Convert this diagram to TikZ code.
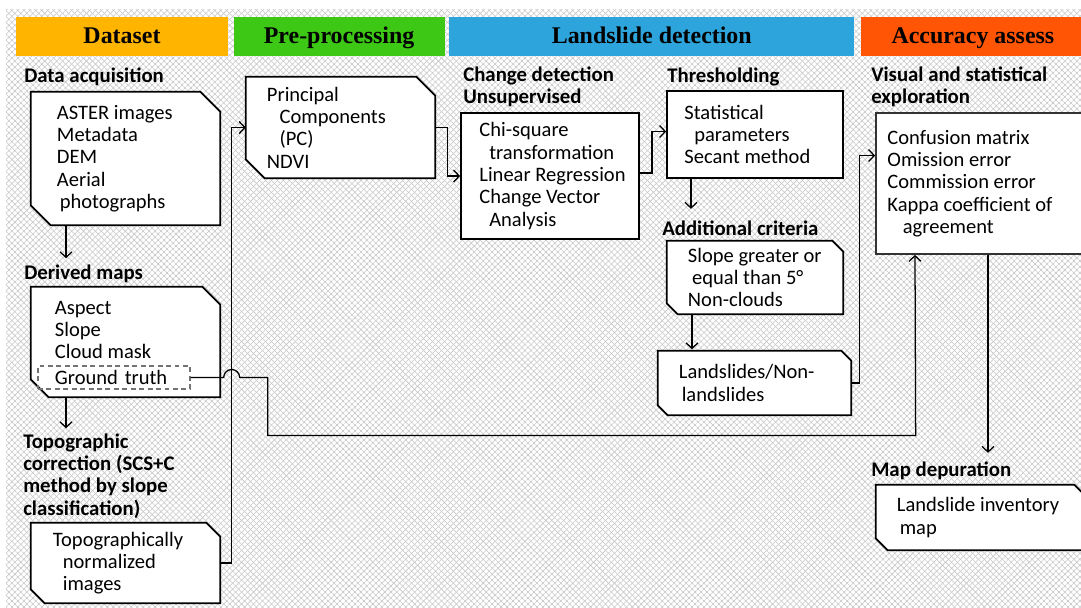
\documentclass[tikz,border=0pt]{standalone}
\usepackage{fontspec}
\setmainfont{Carlito}
\newfontfamily\hdrfont{Liberation Serif}
\usetikzlibrary{positioning,arrows.meta,patterns.meta}

\definecolor{dataorange}{RGB}{255,180,0}
\definecolor{pregreen}{RGB}{60,200,20}
\definecolor{detblue}{RGB}{45,165,220}
\definecolor{accred}{RGB}{255,85,5}

\tikzset{
  hdr/.style={rectangle,minimum height=0.975cm,inner sep=0pt,text height=12.5pt,text depth=3pt,
    font=\hdrfont\bfseries\fontsize{17pt}{18pt}\selectfont},
  lbl/.style={anchor=west,align=left,inner sep=0pt,font=\bfseries\fontsize{14.8pt}{15.8pt}\selectfont},
  txt/.style={anchor=west,align=left,inner sep=0pt,font=\fontsize{14.6pt}{15.86pt}\selectfont},
  plainbox/.style={rectangle,draw=black,line width=1.2pt,fill=white,inner sep=0pt},
  snipbox/.style={rectangle,inner sep=0pt},
  boxline/.style={draw=black,line width=1.2pt,fill=white},
  gtbox/.style={rectangle,draw=black!55,dashed,dash pattern=on 3.5pt off 2.5pt,line width=0.9pt,
    minimum width=3.8cm,minimum height=0.575cm,text width=2.95cm,inner xsep=0.425cm,inner ysep=0pt,align=left,
    font=\fontsize{14.6pt}{15.86pt}\selectfont},
  arr/.style={line width=0.9pt,-{Straight Barb[length=4pt,width=8.5pt]}}
}
\newcommand{\snipframe}[2]{\draw[boxline] (#1.north west) -- ([xshift=-#2]#1.north east) -- ([yshift=-#2]#1.north east)
  -- (#1.south east) -- ([xshift=#2]#1.south west) -- ([yshift=#2]#1.south west) -- cycle;}

\begin{document}
\begin{tikzpicture}[x=0.025cm,y=-0.025cm]
	\useasboundingbox (0,0) rectangle (1081,607);
	\clip (0,0) rectangle (1081,607);
	\fill[white] (0,0) rectangle (1081,607);
	\path[pattern={Lines[angle=45,distance=3pt,line width=0.4pt]},pattern color=black!22] (6,9) rectangle (1081,607);
	\path[pattern={Lines[angle=-45,distance=3pt,line width=0.4pt]},pattern color=black!22] (6,9) rectangle (1081,607);

	\node[hdr,fill=dataorange,minimum width=5.3cm](hdata) at (122,36.5) {Dataset};
	\node[hdr,fill=pregreen,minimum width=5.275cm,right=0.125cm of hdata](hpre) {Pre-processing};
	\node[hdr,fill=detblue,minimum width=10.125cm,right=0.1cm of hpre](hdet) {Landslide detection};
	\node[hdr,fill=accred,minimum width=5.6cm,right=0.15cm of hdet](hacc) {Accuracy assess};

	\node[lbl](lacq) at (24,77) {Data acquisition};
	\node[lbl](lder) at (24,274) {Derived maps};
	\node[lbl](ltopo) at (23,476) {Topographic\\correction (SCS+C\\method by slope\\classification)};
	\node[lbl](lcd) at (463,87) {Change detection\\Unsupervised};
	\node[lbl](lthr) at (667,77) {Thresholding};
	\node[lbl](ladd) at (662,228) {Additional criteria};
	\node[lbl](lvis) at (871,87) {Visual and statistical\\exploration};
	\node[lbl](lmap) at (871,471) {Map depuration};

	\node[snipbox,minimum width=4.725cm,minimum height=3.325cm](bacq) at (125.5,158.5) {};
	\node[snipbox,minimum width=4.725cm,minimum height=2.75cm](bder) at (125.5,342) {};
	\node[snipbox,minimum width=4.725cm,minimum height=2cm](btopo) at (125.5,563) {};
	\node[snipbox,minimum width=4.725cm,minimum height=2.525cm](bpre) at (340.5,127.5) {};
	\node[plainbox,minimum width=4.45cm,minimum height=3.15cm](bcd) at (550,176) {};
	\node[plainbox,minimum width=4.4cm,minimum height=2.175cm](bthr) at (755,134.5) {};
	\node[snipbox,minimum width=4.4cm,minimum height=1.825cm](badd) at (755,277.5) {};
	\node[snipbox,minimum width=4.825cm,minimum height=1.6cm](bls) at (754.5,383) {};
	\node[plainbox,draw=black!80,minimum width=5.75cm,minimum height=3.525cm](bacc) at (991,183.5) {};
	\node[snipbox,minimum width=5.25cm,minimum height=1.625cm](bmap) at (981,517.5) {};
	\snipframe{bacq}{0.5cm}
	\snipframe{bder}{0.45cm}
	\snipframe{btopo}{0.35cm}
	\snipframe{bpre}{0.475cm}
	\snipframe{badd}{0.275cm}
	\snipframe{bls}{0.25cm}
	\snipframe{bmap}{0.3cm}

	\node[txt](tacq) at ([shift={(26,0)}]bacq.west) {ASTER images\\Metadata\\DEM\\Aerial\\\hspace*{2pt}photographs};
	\node[txt](tder) at ([shift={(24,-12)}]bder.west) {Aspect\\Slope\\Cloud mask};
	\node[gtbox](gt) at (114,377.5) {Ground truth};
	\node[txt](ttopo) at ([shift={(22,0)}]btopo.west) {Topographically\\\hspace*{7pt}normalized\\\hspace*{7pt}images};
	\node[txt](tpre) at ([shift={(21,0)}]bpre.west) {Principal\\\hspace*{9pt}Components\\\hspace*{9pt}(PC)\\NDVI};
	\node[txt](tcd) at ([shift={(19,0)}]bcd.west) {Chi-square\\\hspace*{7pt}transformation\\Linear Regression\\Change Vector\\\hspace*{7pt}Analysis};
	\node[txt](tthr) at ([shift={(18,0)}]bthr.west) {Statistical\\\hspace*{7pt}parameters\\Secant method};
	\node[txt](tadd) at ([shift={(21,0)}]badd.west) {Slope greater or\\\hspace*{3pt}equal than 5°\\Non-clouds};
	\node[txt](tls) at ([shift={(21,0)}]bls.west) {Landslides/Non-\\\hspace*{2pt}landslides};
	\node[txt](tacc) at ([shift={(12,0)}]bacc.west) {Confusion matrix\\Omission error\\Commission error\\Kappa coefficient of\\\hspace*{11pt}agreement};
	\node[txt](tmap) at ([shift={(21,0)}]bmap.west) {Landslide inventory\\\hspace*{2pt}map};

	\draw[arr] ([shift={(-59.5,0)}]bacq.south) -- ++(0,33);
	\draw[arr] ([shift={(-59.5,0)}]bder.south) -- ++(0,31);
	\draw[arr] (btopo.east) -- ++(11,0) |- (bpre.west);
	\draw[arr] (bpre.east) -- ++(12,0) |- (bcd.west);
	\draw[arr] ([shift={(0,-3)}]bcd.east) -- ++(12,0) |- ([shift={(0,-3)}]bthr.west);
	\draw[arr] ([shift={(-64,0)}]bthr.south) -- ++(0,30);
	\draw[arr] ([shift={(-63,0)}]badd.south) -- ++(0,35);
	\draw[arr] (bls.east) -- ++(8,0) |- ([shift={(0,-28)}]bacc.west);
	\draw[arr] (gt.east) -- ++(33,0) arc[start angle=180,end angle=0,radius=0.2cm] -- ++(28,0) |- ++(648,58) -- ([shift={(-76,0)}]bacc.south);
	\draw[arr] ([shift={(-3,0)}]bacc.south) -- ++(0,198);
\end{tikzpicture}
\end{document}
